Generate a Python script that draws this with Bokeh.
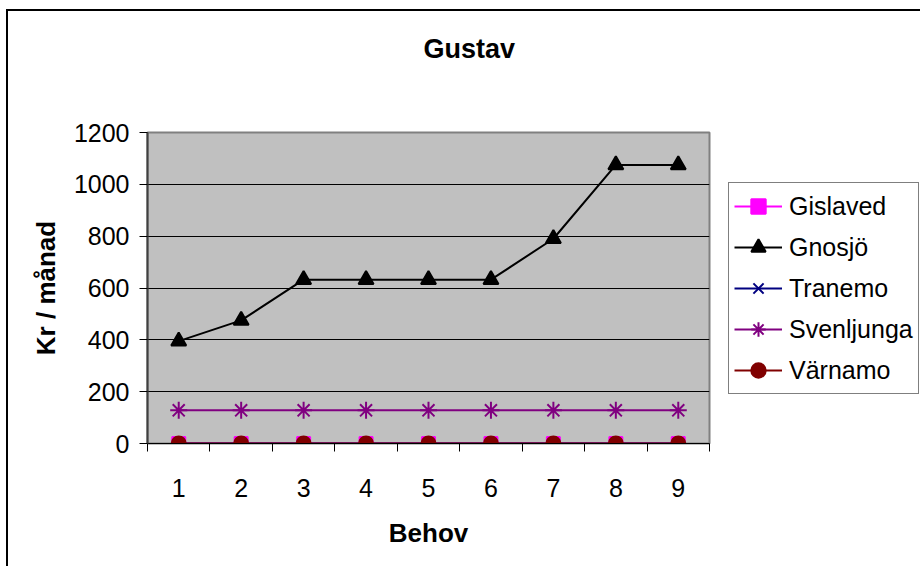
from bokeh.plotting import figure
from bokeh.models import Range1d, FixedTicker, Legend, LegendItem, Title
from bokeh.embed import file_html
from bokeh.resources import INLINE

# ---- data ----
behov = [1, 2, 3, 4, 5, 6, 7, 8, 9]
gislaved = [0, 0, 0, 0, 0, 0, 0, 0, 0]
gnosjo = [395, 475, 632, 632, 632, 632, 790, 1075, 1075]
tranemo = [0, 0, 0, 0, 0, 0, 0, 0, 0]
svenljunga = [128, 128, 128, 128, 128, 128, 128, 128, 128]
varnamo = [0, 0, 0, 0, 0, 0, 0, 0, 0]
y_ticks = [0, 200, 400, 600, 800, 1000, 1200]
title_text = "Gustav"
x_label = "Behov"
y_label = "Kr / månad"

FONT = "Liberation Sans"

p = figure(width=910, height=555, frame_width=562, frame_height=311,
           output_backend="svg", toolbar_location=None,
           x_range=Range1d(behov[0] - 0.5, behov[-1] + 0.5),
           y_range=Range1d(y_ticks[0], y_ticks[-1]),
           min_border_left=139, min_border_right=209,
           min_border_top=0, min_border_bottom=123)

p.styles = {"border-left": "2px solid black", "border-top": "2px solid black",
            "margin-left": "6px", "margin-top": "9px"}

p.background_fill_color = "#C0C0C0"
p.border_fill_color = "white"
p.outline_line_color = "#808080"
p.outline_line_width = 2

p.title.text = title_text
p.title.align = "left"
p.title.offset = 276
p.title.vertical_align = "top"
p.title.standoff = 44
p.title.text_font = FONT
p.title.text_font_size = "27px"
p.title.text_font_style = "bold"
p.title.text_color = "black"

# spacer between title and plot area
p.add_layout(Title(text=" ", text_font_size="1px", standoff=42), "above")

p.xgrid.grid_line_color = None
p.ygrid.grid_line_color = "black"
p.ygrid.grid_line_width = 1
p.ygrid.ticker = FixedTicker(ticks=y_ticks)

# y axis
ya = p.yaxis[0]
ya.ticker = FixedTicker(ticks=y_ticks)
ya.major_tick_out = 8
ya.major_tick_in = 0
ya.minor_tick_out = 0
ya.minor_tick_in = 0
ya.axis_line_color = "#404040"
ya.axis_line_width = 2
ya.major_tick_line_color = "black"
ya.major_label_standoff = 10
ya.major_label_text_font = FONT
ya.major_label_text_font_size = "25px"
ya.major_label_text_color = "black"
ya.axis_label = y_label
ya.axis_label_text_font = FONT
ya.axis_label_text_font_size = "26px"
ya.axis_label_text_font_style = "bold"
ya.axis_label_text_color = "black"
ya.axis_label_standoff = 10

# x axis
xa = p.xaxis[0]
xa.ticker = FixedTicker(ticks=behov, minor_ticks=[b - 0.5 for b in behov] + [behov[-1] + 0.5])
xa.major_tick_out = 0
xa.major_tick_in = 0
xa.minor_tick_out = 8
xa.minor_tick_in = 0
xa.minor_tick_line_color = "black"
xa.axis_line_color = "black"
xa.axis_line_width = 1
xa.major_label_standoff = 27
xa.major_label_text_font = FONT
xa.major_label_text_font_size = "25px"
xa.major_label_text_color = "black"
xa.axis_label = x_label
xa.axis_label_text_font = FONT
xa.axis_label_text_font_size = "26px"
xa.axis_label_text_font_style = "bold"
xa.axis_label_text_color = "black"
xa.axis_label_standoff = 18

series = [
    ("Gislaved", gislaved, "#FF00FF", "square", 13),
    ("Gnosjö", gnosjo, "#000000", "triangle", 15),
    ("Tranemo", tranemo, "#000080", "x", 14),
    ("Svenljunga", svenljunga, "#800080", "asterisk", 17),
    ("Värnamo", varnamo, "#800000", "circle", 14),
]

items = []
for name, vals, color, marker, size in series:
    ln = p.line(behov, vals, line_color=color, line_width=2)
    sc = p.scatter(behov, vals, marker=marker, size=size,
                   fill_color=color, line_color=color, line_width=2)
    items.append(LegendItem(label=name, renderers=[ln, sc]))

legend = Legend(items=items, location=(19, 49), orientation="vertical",
                label_text_font=FONT, label_text_font_size="25px", label_text_color="black",
                glyph_width=48, glyph_height=36, label_height=36, spacing=5,
                padding=5, margin=0, label_standoff=7,
                border_line_color="black", border_line_width=1,
                background_fill_color="white", background_fill_alpha=1.0)
p.add_layout(legend, "right")

open("out.html", "w").write(file_html(p, INLINE))
